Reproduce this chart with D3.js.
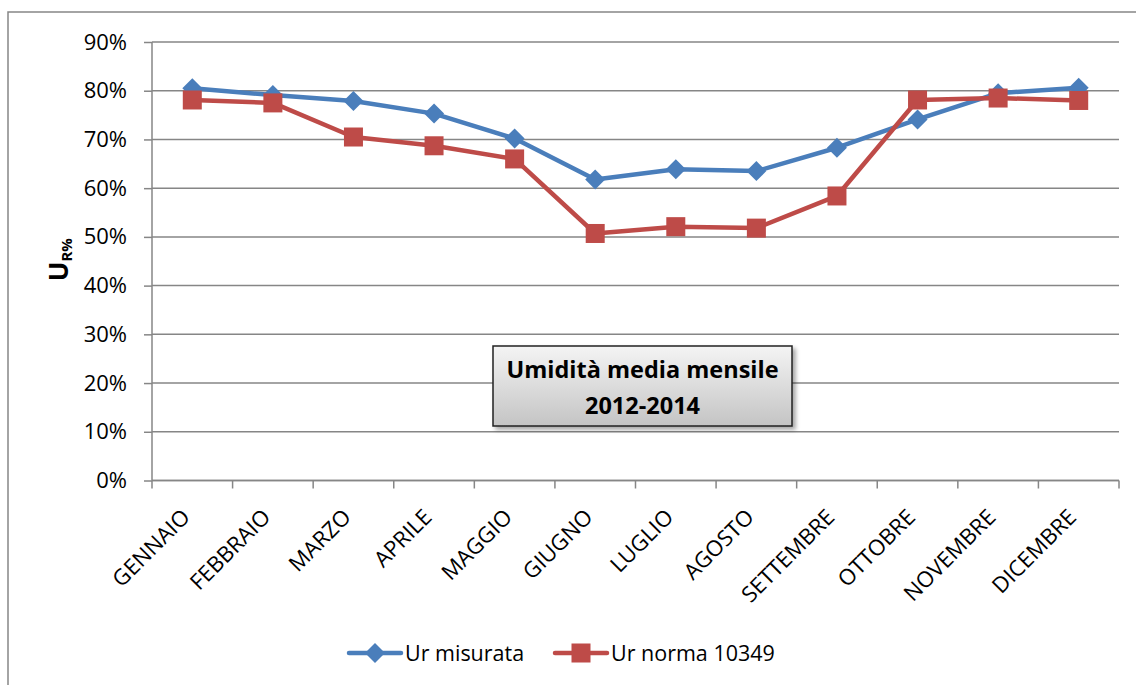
<!DOCTYPE html>
<html>
<head>
<meta charset="utf-8">
<script src="https://cdn.jsdelivr.net/npm/d3@7"></script>
<style>
  html, body { margin: 0; padding: 0; background: #fff; }
  svg { display: block; }
  text { font-family: "Open Sans", "Noto Sans", sans-serif; fill: #000; }
</style>
</head>
<body>
<svg id="chart" width="1136" height="685"></svg>
<script>
const months = ["GENNAIO","FEBBRAIO","MARZO","APRILE","MAGGIO","GIUGNO","LUGLIO","AGOSTO","SETTEMBRE","OTTOBRE","NOVEMBRE","DICEMBRE"];
const urMisurata = [0.805, 0.791, 0.779, 0.753, 0.702, 0.618, 0.639, 0.635, 0.683, 0.741, 0.795, 0.806];
const urNorma = [0.781, 0.775, 0.705, 0.687, 0.660, 0.507, 0.521, 0.518, 0.584, 0.781, 0.785, 0.780];
const yTicks = [0, 0.1, 0.2, 0.3, 0.4, 0.5, 0.6, 0.7, 0.8, 0.9];
const seriesNames = ["Ur misurata", "Ur norma 10349"];
const titleLines = ["Umidità media mensile", "2012-2014"];

const svg = d3.select("#chart");
const gridColor = "#868686";
const blue = "#4A7EBB";
const red = "#BE4B48";

// outer chart border
svg.append("rect").attr("x", 8).attr("y", 12).attr("width", 1140).attr("height", 690)
  .attr("fill", "none").attr("stroke", gridColor).attr("stroke-width", 1.5);

const x = d3.scaleBand().domain(months).range([152, 1119]).padding(0);
const y = d3.scaleLinear().domain([0, 0.9]).range([480.5, 42]);
const cx = d => x(d) + x.bandwidth() / 2;

// gridlines
svg.append("g").selectAll("line").data(yTicks).join("line")
  .attr("x1", 152).attr("x2", 1119)
  .attr("y1", d => y(d)).attr("y2", d => y(d))
  .attr("stroke", gridColor).attr("stroke-width", 1.5);

// y axis
const yAxis = svg.append("g").attr("transform", "translate(152,0)")
  .call(d3.axisLeft(y).tickValues(yTicks).tickFormat(d3.format(".0%")).tickSize(8).tickPadding(17));
yAxis.select(".domain").attr("stroke", gridColor).attr("stroke-width", 1.5).attr("d", `M0,${y(0.9)}V${y(0)}`);
yAxis.selectAll(".tick line").attr("stroke", gridColor).attr("stroke-width", 1.5);
yAxis.selectAll(".tick text").attr("font-size", 22).attr("font-family", '"Open Sans", sans-serif').attr("fill", "#000");

// x axis base line and boundary ticks
const bounds = months.map(m => x(m)).concat([x.range()[1]]);
svg.append("line").attr("x1", 152).attr("x2", 1119).attr("y1", y(0)).attr("y2", y(0))
  .attr("stroke", gridColor).attr("stroke-width", 1.5);
svg.append("g").selectAll("line").data(bounds).join("line")
  .attr("x1", d => d).attr("x2", d => d).attr("y1", y(0)).attr("y2", y(0) + 8)
  .attr("stroke", gridColor).attr("stroke-width", 1.5);

// x labels
svg.append("g").selectAll("text").data(months).join("text")
  .attr("transform", d => `translate(${cx(d) - 1},${y(0) + 38}) rotate(-45)`)
  .attr("text-anchor", "end")
  .attr("font-size", 22)
  .text(d => d);

// y axis title U_R%
const yt = svg.append("text")
  .attr("transform", `translate(68,${(y(0) + y(0.9)) / 2 + 20}) rotate(-90)`)
  .attr("font-weight", "bold").attr("font-size", 26);
yt.append("tspan").text("U");
yt.append("tspan").attr("font-size", 15).attr("dy", 4).text("R%");

// lines
const line = d3.line().x((d, i) => cx(months[i])).y(d => y(d));
svg.append("path").datum(urMisurata).attr("d", line)
  .attr("fill", "none").attr("stroke", blue).attr("stroke-width", 4.5).attr("stroke-linejoin", "round");
svg.append("path").datum(urNorma).attr("d", line)
  .attr("fill", "none").attr("stroke", red).attr("stroke-width", 4.5).attr("stroke-linejoin", "round");

// markers
const dsz = 10;
svg.append("g").selectAll("path").data(urMisurata).join("path")
  .attr("transform", (d, i) => `translate(${cx(months[i])},${y(d)})`)
  .attr("d", `M0,${-dsz}L${dsz},0L0,${dsz}L${-dsz},0Z`)
  .attr("fill", blue);
const ssz = 19;
svg.append("g").selectAll("rect").data(urNorma).join("rect")
  .attr("x", (d, i) => cx(months[i]) - ssz / 2).attr("y", d => y(d) - ssz / 2)
  .attr("width", ssz).attr("height", ssz)
  .attr("fill", red);

// title box
const defs = svg.append("defs");
const grad = defs.append("linearGradient").attr("id", "tg").attr("x1", 0).attr("y1", 0).attr("x2", 0).attr("y2", 1);
grad.append("stop").attr("offset", "0%").attr("stop-color", "#f4f4f4");
grad.append("stop").attr("offset", "100%").attr("stop-color", "#c4c4c4");
const flt = defs.append("filter").attr("id", "sh").attr("x", "-10%").attr("y", "-20%").attr("width", "130%").attr("height", "160%");
flt.append("feDropShadow").attr("dx", 3).attr("dy", 3).attr("stdDeviation", 2).attr("flood-color", "#000").attr("flood-opacity", 0.35);
svg.append("rect").attr("x", 493).attr("y", 346).attr("width", 299).attr("height", 80)
  .attr("fill", "url(#tg)").attr("stroke", "#222").attr("stroke-width", 1.5).attr("filter", "url(#sh)");
svg.append("g").selectAll("text").data(titleLines).join("text")
  .attr("x", 642.5).attr("y", (d, i) => 378 + i * 36)
  .attr("text-anchor", "middle").attr("font-weight", "bold").attr("font-size", 23.5)
  .text(d => d);

// legend
const legend = [
  { name: seriesNames[0], color: blue, x1: 349, x2: 401, tx: 405, type: "diamond" },
  { name: seriesNames[1], color: red, x1: 555, x2: 607, tx: 611, type: "square" }
];
const ly = 653;
legend.forEach(l => {
  svg.append("line").attr("x1", l.x1).attr("x2", l.x2).attr("y1", ly).attr("y2", ly)
    .attr("stroke", l.color).attr("stroke-width", 4.5).attr("stroke-linecap", "round");
  const mx = (l.x1 + l.x2) / 2;
  if (l.type === "diamond") {
    svg.append("path").attr("transform", `translate(${mx},${ly})`)
      .attr("d", `M0,${-dsz}L${dsz},0L0,${dsz}L${-dsz},0Z`).attr("fill", l.color);
  } else {
    svg.append("rect").attr("x", mx - ssz / 2).attr("y", ly - ssz / 2).attr("width", ssz).attr("height", ssz).attr("fill", l.color);
  }
  svg.append("text").attr("x", l.tx).attr("y", ly + 8).attr("font-size", 21.5).text(l.name);
});
</script>
</body>
</html>
